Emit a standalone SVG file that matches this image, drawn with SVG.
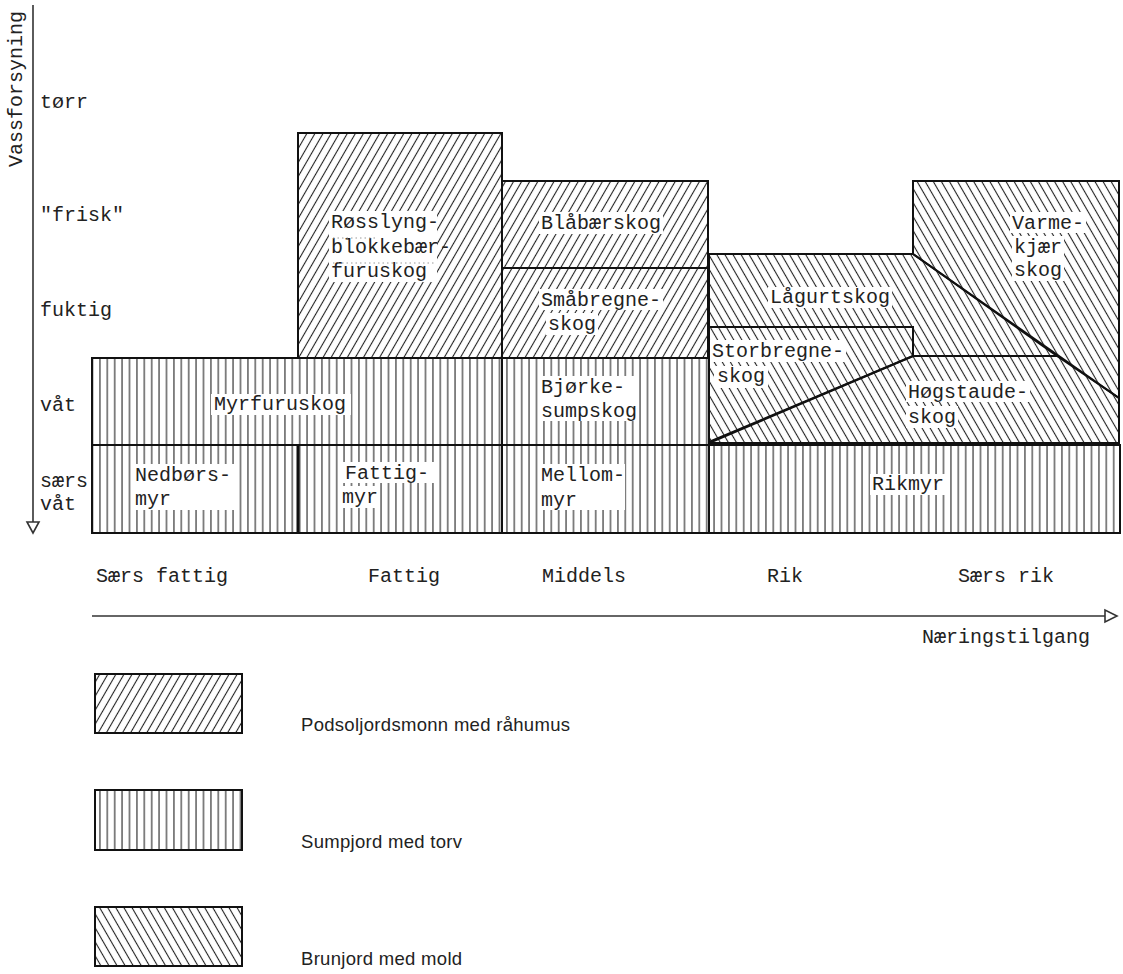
<svg xmlns="http://www.w3.org/2000/svg" width="1123" height="974" viewBox="0 0 1123 974">
<defs>
<pattern id="fwd" width="7" height="7" patternUnits="userSpaceOnUse" patternTransform="rotate(30)"><line x1="3.5" y1="0" x2="3.5" y2="7" stroke="#222" stroke-width="1.1"/></pattern>
<pattern id="bwd" width="7" height="7" patternUnits="userSpaceOnUse" patternTransform="rotate(-30)"><line x1="3.5" y1="0" x2="3.5" y2="7" stroke="#222" stroke-width="1.1"/></pattern>
<pattern id="vert" width="7.4" height="7" patternUnits="userSpaceOnUse"><line x1="3.7" y1="0" x2="3.7" y2="7" stroke="#222" stroke-width="1.1"/></pattern>
</defs>
<style>
.b{stroke:#111;stroke-width:2;fill:none}
.t{font-family:"Liberation Mono","DejaVu Sans Mono",monospace;font-size:20px;fill:#222}
.bg{fill:#fff}
.lg{font-family:"Liberation Sans","DejaVu Sans",sans-serif;font-size:18.5px;fill:#222;letter-spacing:0.3px}
.ax{stroke:#333;stroke-width:1.6;fill:none}
</style>
<rect width="1123" height="974" fill="#fff"/>

<g id="axes">
<text class="t" transform="translate(22,167) rotate(-90)">Vassforsyning</text>
<text class="t" x="40" y="108">tørr</text>
<text class="t" x="40" y="221">"frisk"</text>
<text class="t" x="40" y="316">fuktig</text>
<text class="t" x="40" y="411">våt</text>
<text class="t" x="40" y="487">særs</text>
<text class="t" x="40" y="510">våt</text>
<text class="t" x="96" y="582">Særs fattig</text>
<text class="t" x="368" y="582">Fattig</text>
<text class="t" x="542" y="582">Middels</text>
<text class="t" x="767" y="582">Rik</text>
<text class="t" x="958" y="582">Særs rik</text>
<text class="t" x="922" y="643">Næringstilgang</text>
</g>

<g id="connectors">
<line class="ax" x1="33" y1="5" x2="33" y2="522"/>
<polygon class="ax" points="27,522 39,522 33,533"/>
<line class="ax" x1="92" y1="616" x2="1105" y2="616"/>
<polygon class="ax" points="1105,610 1105,622 1117,616"/>
</g>

<g id="nedborsmyr">
<rect x="92" y="445" width="206" height="88" fill="url(#vert)"/>
<rect x="92" y="445" width="206" height="88" class="b"/>
<rect class="bg" x="133" y="464" width="106" height="46"/>
<text class="t" x="135" y="481">Nedbørs-</text>
<text class="t" x="135" y="505">myr</text>
</g>
<g id="fattigmyr">
<rect x="298" y="445" width="204" height="88" fill="url(#vert)"/>
<rect x="298" y="445" width="204" height="88" class="b"/>
<line x1="298" y1="445" x2="298" y2="533" stroke="#111" stroke-width="3"/>
<rect class="bg" x="343" y="462" width="94" height="21"/>
<rect class="bg" x="340" y="486" width="40" height="22"/>
<text class="t" x="345" y="479">Fattig-</text>
<text class="t" x="342" y="503">myr</text>
</g>
<g id="mellommyr">
<rect x="502" y="445" width="207" height="88" fill="url(#vert)"/>
<rect x="502" y="445" width="207" height="88" class="b"/>
<rect class="bg" x="539" y="464" width="86" height="46"/>
<text class="t" x="541" y="481">Mellom-</text>
<text class="t" x="541" y="506">myr</text>
</g>
<g id="rikmyr">
<rect x="709" y="445" width="411" height="88" fill="url(#vert)"/>
<rect x="709" y="445" width="411" height="88" class="b"/>
<rect class="bg" x="870" y="474" width="76" height="21"/>
<text class="t" x="872" y="490">Rikmyr</text>
</g>

<g id="myrfuruskog">
<rect x="92" y="358" width="410" height="87" fill="url(#vert)"/>
<rect x="92" y="358" width="410" height="87" class="b"/>
<rect class="bg" x="211" y="394" width="140" height="21"/>
<text class="t" x="214" y="410">Myrfuruskog</text>
</g>
<g id="bjorkesumpskog">
<rect x="502" y="358" width="207" height="87" fill="url(#vert)"/>
<rect x="502" y="358" width="207" height="87" class="b"/>
<rect class="bg" x="539" y="376" width="96" height="45"/>
<text class="t" x="541" y="393">Bjørke-</text>
<text class="t" x="541" y="417">sumpskog</text>
</g>

<g id="rosslyngskog">
<rect x="298" y="133" width="204" height="225" fill="url(#fwd)"/>
<rect x="298" y="133" width="204" height="225" class="b"/>
<rect class="bg" x="329" y="211" width="108" height="71"/>
<text class="t" x="331" y="228">Røsslyng-</text>
<text class="t" x="331" y="253">blokkebær-</text>
<text class="t" x="331" y="277">furuskog</text>
<line x1="333" y1="238" x2="378" y2="238" stroke="#999" stroke-width="1" stroke-dasharray="1.5,3"/>
<line x1="333" y1="263" x2="436" y2="263" stroke="#999" stroke-width="1" stroke-dasharray="1.5,3"/>
</g>
<g id="blabaerskog">
<rect x="502" y="181" width="206" height="87" fill="url(#fwd)"/>
<rect x="502" y="181" width="206" height="87" class="b"/>
<rect class="bg" x="539" y="212" width="124" height="22"/>
<text class="t" x="541" y="229">Blåbærskog</text>
</g>
<g id="smabregneskog">
<rect x="502" y="268" width="206" height="90" fill="url(#fwd)"/>
<rect x="502" y="268" width="206" height="90" class="b"/>
<rect class="bg" x="539" y="289" width="124" height="21"/>
<rect class="bg" x="546" y="313" width="52" height="22"/>
<text class="t" x="541" y="306">Småbregne-</text>
<text class="t" x="548" y="330">skog</text>
</g>

<g id="lagurtskog">
<polygon points="709,254 913,254 1057,356 913,356 913,327 709,327" fill="url(#bwd)"/>
<polygon points="709,254 913,254 1057,356 913,356 913,327 709,327" class="b"/>
<rect class="bg" x="768" y="287" width="124" height="21"/>
<text class="t" x="770" y="303">Lågurtskog</text>
</g>
<g id="varmekjaerskog">
<polygon points="913,181 1119,181 1119,398 913,254" fill="url(#bwd)"/>
<polygon points="913,181 1119,181 1119,398 913,254" class="b"/>
<rect class="bg" x="1010" y="212" width="76" height="21"/>
<rect class="bg" x="1012" y="236" width="52" height="45"/>
<text class="t" x="1012" y="229">Varme-</text>
<text class="t" x="1014" y="253">kjær</text>
<text class="t" x="1014" y="276">skog</text>
</g>
<g id="storbregneskog">
<polygon points="709,327 913,327 913,356 709,442" fill="url(#bwd)"/>
<polygon points="709,327 913,327 913,356 709,442" class="b"/>
<rect class="bg" x="710" y="340" width="136" height="22"/>
<rect class="bg" x="714" y="366" width="54" height="22"/>
<text class="t" x="712" y="357">Storbregne-</text>
<text class="t" x="717" y="382">skog</text>
</g>
<g id="hogstaudeskog">
<polygon points="709,443 913,356 1057,356 1119,398 1119,443" fill="url(#bwd)"/>
<polygon points="709,443 913,356 1057,356 1119,398 1119,443" class="b"/>
<rect class="bg" x="906" y="381" width="124" height="21"/>
<rect class="bg" x="906" y="406" width="52" height="22"/>
<text class="t" x="908" y="398">Høgstaude-</text>
<text class="t" x="908" y="423">skog</text>
</g>

<g id="legend">
<rect x="95" y="674" width="147" height="59" fill="url(#fwd)"/>
<rect x="95" y="674" width="147" height="59" class="b"/>
<text class="lg" x="301" y="731">Podsoljordsmonn med råhumus</text>
<rect x="95" y="790" width="147" height="60" fill="url(#vert)"/>
<rect x="95" y="790" width="147" height="60" class="b"/>
<text class="lg" x="301" y="848">Sumpjord med torv</text>
<rect x="95" y="907" width="147" height="59" fill="url(#bwd)"/>
<rect x="95" y="907" width="147" height="59" class="b"/>
<text class="lg" x="301" y="965">Brunjord med mold</text>
</g>
</svg>
